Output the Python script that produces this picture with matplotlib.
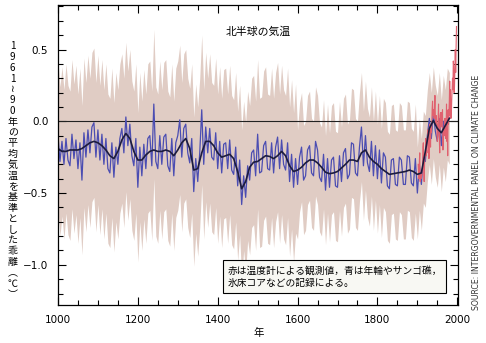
import numpy as np
import matplotlib
matplotlib.use("Agg")
import matplotlib.pyplot as plt
from matplotlib.patches import Rectangle

plt.rcParams['font.family'] = ['Noto Sans CJK JP', 'DejaVu Sans']

# proxy reconstruction (blue), every 5 years 1000-1980
blue_years = np.arange(1000, 1981, 5)
blue = [
    -0.10, -0.28, -0.14, -0.30, -0.12, -0.27, -0.31, -0.09, -0.26, -0.13,
    -0.33, -0.15, -0.41, -0.08, -0.25, -0.06, -0.22, -0.04, -0.01, -0.25,
    -0.06, -0.27, -0.09, -0.30, -0.12, -0.33, -0.36, -0.15, -0.39, -0.18,
    -0.30, -0.12, -0.05, -0.22, 0.03, -0.17, -0.02, -0.24, -0.31, -0.12,
    -0.46, -0.18, -0.38, -0.16, -0.33, -0.12, -0.10, -0.31, 0.12, -0.28,
    -0.33, -0.10, -0.30, -0.11, -0.09, -0.31, -0.35, -0.12, -0.38, -0.15,
    -0.10, 0.01, -0.25, -0.05, -0.02, -0.22, -0.29, -0.12, -0.49, -0.26,
    -0.42, -0.22, 0.08, -0.30, -0.04, -0.22, -0.05, -0.25, -0.27, -0.08,
    -0.33, -0.14, -0.36, -0.16, -0.15, -0.33, -0.13, -0.34, -0.37, -0.18,
    -0.45, -0.27, -0.58, -0.38, -0.53, -0.31, -0.41, -0.22, -0.20, -0.38,
    -0.09, -0.36, -0.35, -0.17, -0.14, -0.33, -0.34, -0.15, -0.36, -0.18,
    -0.11, -0.33, -0.13, -0.30, -0.34, -0.15, -0.42, -0.23, -0.46, -0.26,
    -0.44, -0.25, -0.18, -0.41, -0.38, -0.20, -0.17, -0.36, -0.38, -0.14,
    -0.20, -0.39, -0.42, -0.23, -0.48, -0.26, -0.46, -0.27, -0.25, -0.45,
    -0.46, -0.24, -0.42, -0.22, -0.19, -0.40, -0.37, -0.15, -0.16, -0.36,
    -0.38, -0.18, -0.04, -0.31, -0.10, -0.29, -0.35, -0.14, -0.38, -0.17,
    -0.40, -0.20, -0.43, -0.22, -0.25, -0.45, -0.47, -0.27, -0.26, -0.44,
    -0.45, -0.25, -0.27, -0.44, -0.44, -0.24, -0.25, -0.43, -0.45, -0.26,
    -0.50, -0.30, -0.44, -0.25, -0.28, -0.10, 0.02, -0.12, 0.06, -0.07,
    -0.14, 0.02, -0.17, 0.00, -0.10, 0.05, 0.02,
]
blue = np.array(blue)

# smoothed curve (black), every 10 years
smooth_years = np.arange(1000, 1981, 10)
smooth = [
    -0.19, -0.21, -0.21, -0.20, -0.20, -0.20, -0.19, -0.17, -0.15, -0.14,
    -0.15, -0.17, -0.20, -0.24, -0.26, -0.21, -0.13, -0.085, -0.12, -0.21,
    -0.27, -0.27, -0.235, -0.21, -0.20, -0.21, -0.21, -0.20, -0.21, -0.24,
    -0.20, -0.15, -0.12, -0.19, -0.34, -0.33, -0.22, -0.14, -0.14, -0.17,
    -0.22, -0.25, -0.24, -0.23, -0.26, -0.35, -0.47, -0.42, -0.32, -0.285,
    -0.28, -0.26, -0.24, -0.245, -0.26, -0.24, -0.21, -0.24, -0.31, -0.35,
    -0.34, -0.32, -0.29, -0.27, -0.27, -0.29, -0.32, -0.355, -0.365, -0.36,
    -0.35, -0.325, -0.30, -0.27, -0.27, -0.28, -0.22, -0.20, -0.25, -0.28,
    -0.30, -0.33, -0.35, -0.37, -0.365, -0.36, -0.355, -0.35, -0.34, -0.35,
    -0.37, -0.36, -0.21, -0.05, 0.005, -0.05, -0.08, -0.03, 0.02,
]

# thermometer record (red), annual 1902-1998
red_years = np.arange(1902, 1999)
red = [
    -0.30, -0.36, -0.40, -0.28, -0.22, -0.42, -0.38, -0.40,
    -0.36, -0.38, -0.34, -0.33, -0.18, -0.15, -0.32, -0.42, -0.30, -0.25,
    -0.24, -0.12, -0.24, -0.20, -0.22, -0.14, -0.06, -0.12, -0.10, -0.26,
    -0.05, -0.02, -0.06, -0.18, -0.02, -0.08, -0.04, 0.08, 0.14, 0.04,
    0.06, 0.08, 0.02, 0.10, 0.18, 0.04, -0.02, 0.04, -0.02, -0.04,
    -0.14, -0.02, 0.02, 0.12, -0.10, -0.12, -0.22, 0.04, 0.06, 0.02,
    -0.04, 0.06, 0.04, 0.08, -0.20, -0.14, -0.08, -0.04, -0.10, 0.02,
    -0.02, -0.12, -0.04, 0.12, -0.14, -0.06, -0.24, 0.08, -0.02, 0.06,
    0.14, 0.28, 0.04, 0.22, 0.02, 0.04, 0.14, 0.22, 0.30, 0.22,
    0.42, 0.38, 0.20, 0.24, 0.36, 0.50, 0.34, 0.52, 0.66,
]

# uncertainty half-width by period
band_start = [1000, 1600, 1900]
band_half = [0.52, 0.38, 0.32]
idx = np.searchsorted(band_start, blue_years, side='right') - 1
half = np.array(band_half)[idx]

fig = plt.figure(figsize=(4.86, 3.43), dpi=100)
ax = fig.add_axes([0.1193, 0.1108, 0.8241, 0.8746])

ax.fill_between(blue_years, blue - half, blue + half, color='#e0ccc4', lw=0)
ax.axhline(0, color='#222222', lw=0.8)
ax.plot(blue_years, blue, color='#4b4db2', lw=0.9)
ax.plot(red_years, red, color='#e0606e', lw=0.8)
ax.plot(smooth_years, smooth, color='#1c1c3e', lw=1.2)

ax.set_xlim(1000, 2003)
ax.set_ylim(-1.28, 0.81)
ax.set_xticks(np.arange(1000, 2001, 200))
ax.set_xticks(np.arange(1000, 2001, 50), minor=True)
ax.set_yticks([-1.0, -0.5, 0.0, 0.5])
ax.set_yticklabels(['\u22121.0', '\u22120.5', '0.0', '0.5'])
ax.set_yticks(np.arange(-1.2, 0.81, 0.1), minor=True)
ax.tick_params(which='both', direction='in', top=True, right=True,
               labelsize=7.5, labelfontfamily='DejaVu Sans', pad=7)
ax.tick_params(which='major', length=6, width=0.8)
ax.tick_params(which='minor', length=3.5, width=0.8)
for s in ax.spines.values():
    s.set_linewidth(0.9)

ax.text(0.5, 0.91, '北半球の気温', transform=ax.transAxes, ha='center',
        va='center', fontsize=7.8)
ax.set_xlabel('年', fontsize=7.5, labelpad=2)

# note box
ax.add_patch(Rectangle((0.413, 0.04), 0.557, 0.11, transform=ax.transAxes,
                       facecolor='#f8f8f3', edgecolor='black', lw=0.8, zorder=5))
ax.text(0.423, 0.095, '赤は温度計による観測値，青は年輪やサンゴ礁，\n氷床コアなどの記録による。',
        transform=ax.transAxes, ha='left', va='center', fontsize=7,
        linespacing=1.3, zorder=6)

ylabel = ['1', '9', '6', '1', '≀', '9', '0', '年', 'の', '平', '均', '気', '温',
          'を', '基', '準', 'と', 'し', 'た', '乖', '離', '︵', '℃', '︶']
fig.text(0.026, 0.503, '\n'.join(ylabel), ha='center', va='center',
         fontsize=7.2, linespacing=1.1)

fig.text(0.981, 0.44, 'SOURCE: INTERGOVERNMENTAL PANEL ON CLIMATE CHANGE',
         rotation=90, ha='center', va='center', fontsize=5.6,
         family='DejaVu Sans', color='#333333')

fig.savefig('out.png', dpi=100)
